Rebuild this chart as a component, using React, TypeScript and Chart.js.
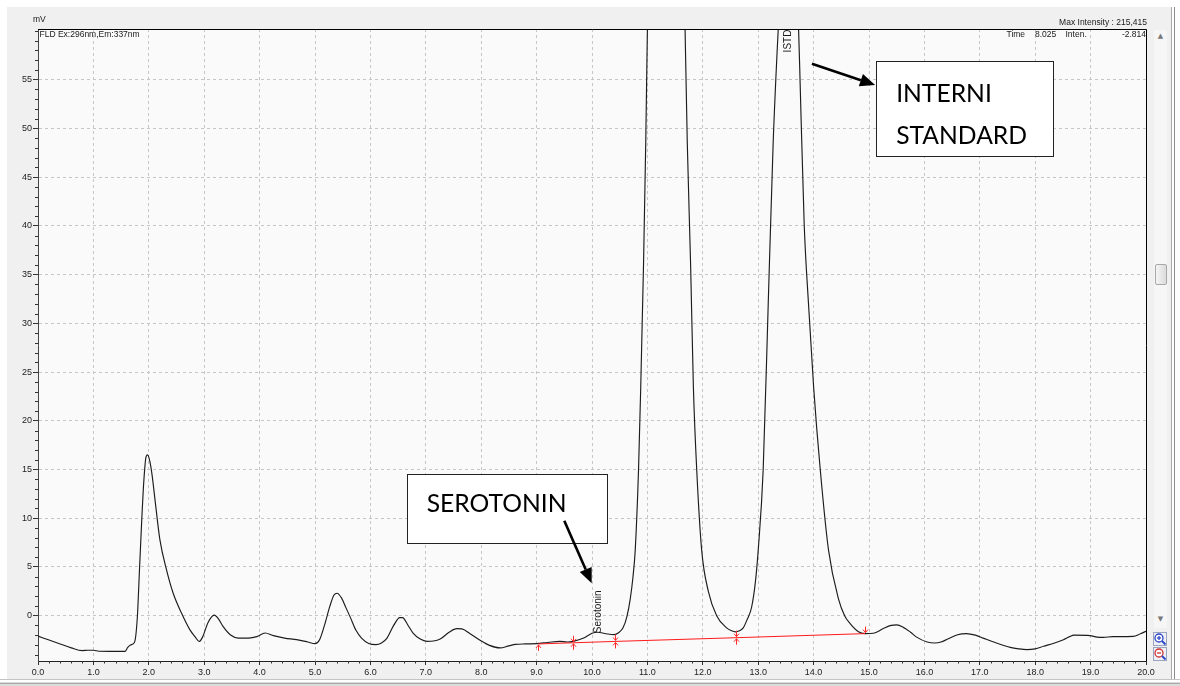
import React, { useEffect, useRef } from 'react';
import { Chart, registerables } from 'chart.js';

Chart.register(...registerables);

// ---- data ----
const retentionTimes = [
  0.0, 0.2, 0.4, 0.6, 0.8, 0.9, 1.0, 1.1, 1.3, 1.57, 1.62, 1.67, 1.74, 1.77, 1.8, 1.83, 1.87, 1.91, 1.95, 1.98,
  2.02, 2.06, 2.12, 2.2, 2.32, 2.44, 2.59, 2.74, 2.84, 2.91, 2.97, 3.07, 3.18, 3.26, 3.34, 3.47, 3.62, 3.8, 3.95,
  4.1, 4.25, 4.45, 4.67, 4.87, 5.0, 5.08, 5.17, 5.27, 5.34, 5.4, 5.48, 5.56, 5.64, 5.74, 5.84, 5.97, 6.1, 6.2,
  6.3, 6.42, 6.53, 6.58, 6.67, 6.77, 6.9, 7.02, 7.14, 7.26, 7.42, 7.56, 7.65, 7.8, 7.98, 8.15, 8.34, 8.5, 8.62,
  8.8, 9.0, 9.2, 9.42, 9.55, 9.66, 9.85, 10.0, 10.1, 10.25, 10.4, 10.48, 10.56, 10.63, 10.69, 10.74, 10.78,
  10.84, 10.88, 10.93, 10.97, 11.0, 11.09, 11.22, 11.34, 11.46, 11.59, 11.68, 11.72, 11.78, 11.83, 11.89,
  11.98, 12.1, 12.25, 12.43, 12.52, 12.59, 12.66, 12.73, 12.8, 12.88, 12.95, 13.0, 13.09, 13.18, 13.27,
  13.36, 13.45, 13.545, 13.64, 13.73, 13.76, 13.83, 13.91, 14.0, 14.12, 14.27, 14.45, 14.56, 14.66, 14.81,
  14.93, 15.08, 15.25, 15.4, 15.5, 15.62, 15.75, 15.86, 16.05, 16.19, 16.3, 16.42, 16.6, 16.76, 16.92, 17.06,
  17.3, 17.55, 17.7, 17.85, 18.0, 18.15, 18.35, 18.51, 18.62, 18.7, 18.99, 19.12, 19.23, 19.4, 19.77, 19.9, 20.0,
];
const signalMv = [
  -2.1, -2.5, -2.9, -3.3, -3.58, -3.55, -3.55, -3.65, -3.66, -3.66, -3.25, -3.0, -2.75, -1.8, 0.5, 4.5, 9.5, 13.8, 16.3, 16.5,
  15.8, 14.4, 11.5, 7.8, 4.7, 2.3, 0.27, -1.43, -2.2, -2.65, -2.2, -0.7, 0.05, -0.35, -1.1, -1.95, -2.3, -2.3, -2.15,
  -1.78, -2.05, -2.3, -2.46, -2.7, -2.87, -2.5, -1.0, 1.0, 2.1, 2.3, 1.8, 0.8, -0.2, -1.5, -2.3, -2.85, -2.97, -2.8,
  -2.3, -1.0, -0.2, -0.2, -0.9, -1.78, -2.4, -2.63, -2.6, -2.4, -1.7, -1.33, -1.35, -1.85, -2.53, -3.05, -3.31, -3.1, -2.95,
  -2.9, -2.87, -2.75, -2.63, -2.7, -2.63, -2.3, -1.8, -1.7, -1.85, -1.95, -1.75, -1.25, -0.1, 1.7, 4.0, 6.7,
  15.0, 23.5, 36.0, 48.5, 60.2, 89.6, 132.8, 149.0, 132.8, 89.6, 60.2, 48.5, 36.0, 23.5, 15.0,
  6.7, 2.5, 0.0, -1.25, -1.55, -1.66, -1.55, -1.25, -0.4, 0.84, 3.5, 6.7, 15.0, 31.8, 48.5,
  60.0, 69.0, 73.0, 69.0, 60.0, 54.0, 40.2, 31.8, 23.5, 15.0, 6.7, 1.7, 0.0, -0.82, -1.66,
  -1.84, -1.8, -1.35, -1.0, -0.95, -1.2, -1.7, -2.2, -2.7, -2.8, -2.7, -2.4, -1.95, -1.84, -2.0, -2.3,
  -2.8, -3.25, -3.4, -3.48, -3.4, -3.14, -2.8, -2.46, -2.15, -2.0, -2.05, -2.2, -2.22, -2.15, -2.12, -1.85, -1.6,
];

// integration baseline (red) and its peak start / end markers
const baselineTimes = [9.03, 9.66, 10.42, 12.6, 14.93];
const baselineValues = [-2.9, -2.78, -2.64, -2.26, -1.84];
const baselineMarkerKinds = ['up', 'both', 'both', 'both', 'down'];

// peak labels
const peakNames = ['Serotonin', 'ISTD'];
const peakLabelTimes = [10.11, 13.545];
const peakLabelValues = [-1.8, 57.8];

// axis
const xMin = 0;
const xMax = 20;
const yMin = -4.65;
const yMax = 60.2;
const yMaxLabel = 55;

// header texts
const detectorText = 'FLD Ex:296nm,Em:337nm';
const maxIntensityText = 'Max Intensity : 215,415';
const cursorTexts = ['Time', '8.025', 'Inten.', '-2.814'];
const yUnit = 'mV';

// call-out boxes (in data coordinates)
const callouts = [
  {
    lines: ['SEROTONIN'],
    box: [6.654, 14.55, 10.27, 7.49],
    text: [7.015, 10.65],
    arrow: [9.5, 9.75, 9.995, 3.33],
  },
  {
    lines: ['INTERNI', 'STANDARD'],
    box: [15.125, 56.9, 18.33, 47.13],
    text: [15.49, 52.74],
    arrow: [13.97, 56.63, 15.11, 54.46],
  },
];

const SMALL_FONT = '"Liberation Sans", Arial, sans-serif';

function drawArrow(ctx: CanvasRenderingContext2D, x1: number, y1: number, x2: number, y2: number) {
  const ang = Math.atan2(y2 - y1, x2 - x1);
  const headLen = 15;
  const headHalf = 6.5;
  const bx = x2 - Math.cos(ang) * headLen;
  const by = y2 - Math.sin(ang) * headLen;
  ctx.save();
  ctx.strokeStyle = '#000';
  ctx.fillStyle = '#000';
  ctx.lineWidth = 2.6;
  ctx.beginPath();
  ctx.moveTo(x1, y1);
  ctx.lineTo(bx, by);
  ctx.stroke();
  ctx.beginPath();
  ctx.moveTo(x2, y2);
  ctx.lineTo(bx - Math.sin(ang) * headHalf, by + Math.cos(ang) * headHalf);
  ctx.lineTo(bx + Math.sin(ang) * headHalf, by - Math.cos(ang) * headHalf);
  ctx.closePath();
  ctx.fill();
  ctx.restore();
}

const chromPlugin = {
  id: 'chromDecor',
  beforeDraw(chart: any) {
    const { ctx, chartArea: a } = chart;
    ctx.save();
    ctx.fillStyle = '#fafafa';
    ctx.fillRect(a.left, a.top, a.right - a.left, a.bottom - a.top);
    ctx.restore();
  },
  afterDatasetsDraw(chart: any) {
    const { ctx } = chart;
    const xs = chart.scales.x;
    const ys = chart.scales.y;
    // baseline markers
    ctx.save();
    ctx.strokeStyle = '#ff2a2a';
    ctx.lineWidth = 1;
    baselineTimes.forEach((t, i) => {
      const x = Math.round(xs.getPixelForValue(t)) + 0.5;
      const y = ys.getPixelForValue(baselineValues[i]);
      const kind = baselineMarkerKinds[i];
      ctx.beginPath();
      if (kind === 'up' || kind === 'both') {
        ctx.moveTo(x, y + 1);
        ctx.lineTo(x, y + 7);
        ctx.moveTo(x - 2.5, y + 4);
        ctx.lineTo(x, y + 1);
        ctx.lineTo(x + 2.5, y + 4);
      }
      if (kind === 'down' || kind === 'both') {
        ctx.moveTo(x, y - 1);
        ctx.lineTo(x, y - 7);
        ctx.moveTo(x - 2.5, y - 4);
        ctx.lineTo(x, y - 1);
        ctx.lineTo(x + 2.5, y - 4);
      }
      ctx.stroke();
    });
    ctx.restore();
    // peak names
    ctx.save();
    ctx.fillStyle = '#1a1a1a';
    ctx.font = '10px ' + SMALL_FONT;
    ctx.textAlign = 'left';
    ctx.textBaseline = 'middle';
    peakNames.forEach((name, i) => {
      const x = xs.getPixelForValue(peakLabelTimes[i]);
      const y = ys.getPixelForValue(peakLabelValues[i]);
      ctx.save();
      ctx.translate(x, y);
      ctx.rotate(-Math.PI / 2);
      ctx.fillText(name, 0, 0);
      ctx.restore();
    });
    ctx.restore();
  },
  afterDraw(chart: any) {
    const { ctx, chartArea: a } = chart;
    const xs = chart.scales.x;
    const ys = chart.scales.y;
    ctx.save();
    // top & right frame of the plot
    ctx.strokeStyle = '#000';
    ctx.lineWidth = 1;
    ctx.beginPath();
    ctx.moveTo(a.left, a.top + 0.5);
    ctx.lineTo(a.right + 0.5, a.top + 0.5);
    ctx.lineTo(a.right + 0.5, a.bottom);
    ctx.stroke();
    // minor ticks
    ctx.strokeStyle = '#333';
    ctx.beginPath();
    for (let v = Math.ceil(yMin); v <= Math.floor(yMax); v++) {
      if (v % 5 === 0 && v <= yMaxLabel && v >= 0) continue;
      const y = Math.round(ys.getPixelForValue(v)) + 0.5;
      ctx.moveTo(a.left - 3, y);
      ctx.lineTo(a.left, y);
    }
    for (let k = 0; k <= (xMax - xMin) * 5; k++) {
      if (k % 5 === 0) continue;
      const x = Math.round(xs.getPixelForValue(xMin + k * 0.2)) + 0.5;
      ctx.moveTo(x, a.bottom);
      ctx.lineTo(x, a.bottom + 2.5);
    }
    ctx.stroke();

    // header texts
    ctx.fillStyle = '#1a1a1a';
    ctx.font = '8.5px ' + SMALL_FONT;
    ctx.textBaseline = 'middle';
    ctx.textAlign = 'left';
    ctx.fillText(yUnit, a.left - 5, a.top - 9);
    ctx.fillText(detectorText, a.left + 1.5, a.top + 6);
    ctx.textAlign = 'right';
    ctx.fillText(maxIntensityText, a.right + 1, a.top - 6.5);
    ctx.textAlign = 'left';
    ctx.fillText(cursorTexts[0], a.right - 139.5, a.top + 5.5);
    ctx.fillText(cursorTexts[1], a.right - 111, a.top + 5.5);
    ctx.fillText(cursorTexts[2], a.right - 80.5, a.top + 5.5);
    ctx.textAlign = 'right';
    ctx.fillText(cursorTexts[3], a.right, a.top + 5.5);

    // call-outs
    const fam = 'Lato, "Open Sans", sans-serif';
    ctx.font = '27px ' + fam;
    const w0 = ctx.measureText('SEROTONIN').width;
    const size = (27 * 140) / w0;
    callouts.forEach((c) => {
      const x1 = Math.round(xs.getPixelForValue(c.box[0])) + 0.5;
      const y1 = Math.round(ys.getPixelForValue(c.box[1])) + 0.5;
      const x2 = Math.round(xs.getPixelForValue(c.box[2])) + 0.5;
      const y2 = Math.round(ys.getPixelForValue(c.box[3])) + 0.5;
      ctx.fillStyle = '#fff';
      ctx.fillRect(x1, y1, x2 - x1, y2 - y1);
      ctx.strokeStyle = '#222';
      ctx.lineWidth = 1;
      ctx.strokeRect(x1, y1, x2 - x1, y2 - y1);
      ctx.fillStyle = '#000';
      ctx.font = size.toFixed(2) + 'px ' + fam;
      ctx.textAlign = 'left';
      ctx.textBaseline = 'alphabetic';
      const tx = xs.getPixelForValue(c.text[0]);
      const ty = ys.getPixelForValue(c.text[1]);
      c.lines.forEach((ln, i) => ctx.fillText(ln, tx, ty + i * 42));
      drawArrow(
        ctx,
        xs.getPixelForValue(c.arrow[0]),
        ys.getPixelForValue(c.arrow[1]),
        xs.getPixelForValue(c.arrow[2]),
        ys.getPixelForValue(c.arrow[3])
      );
    });
    ctx.restore();
  },
};

function MagIcon({ top, minus }: { top: number; minus?: boolean }) {
  const col = minus ? '#d03030' : '#2a46c8';
  return (
    <svg
      width={14}
      height={14}
      style={{ position: 'absolute', left: 1153, top }}
      viewBox="0 0 14 14"
    >
      <rect x={0.5} y={0.5} width={13} height={13} fill="#eef0f6" stroke="#9aa4c0" strokeWidth={1} />
      <circle cx={6} cy={6} r={4} fill="#fff" stroke={col} strokeWidth={1.3} />
      <line x1={4} y1={6} x2={8} y2={6} stroke={col} strokeWidth={1.3} />
      {!minus && <line x1={6} y1={4} x2={6} y2={8} stroke={col} strokeWidth={1.3} />}
      <line x1={9} y1={9} x2={12.5} y2={12.5} stroke="#2a46c8" strokeWidth={1.8} />
    </svg>
  );
}

export default function App() {
  const ref = useRef<HTMLCanvasElement>(null);

  useEffect(() => {
    const canvas = ref.current;
    if (!canvas) return;
    const chart = new Chart(canvas, {
      type: 'line',
      data: {
        datasets: [
          {
            label: 'Baseline',
            data: baselineTimes.map((t, i) => ({ x: t, y: baselineValues[i] })),
            borderColor: '#ff1a1a',
            borderWidth: 1,
            pointRadius: 0,
            tension: 0,
            order: 0,
          },
          {
            label: 'FLD',
            data: retentionTimes.map((t, i) => ({ x: t, y: signalMv[i] })),
            borderColor: '#1c1c1c',
            borderWidth: 1.15,
            pointRadius: 0,
            cubicInterpolationMode: 'monotone',
            order: 1,
          },
        ],
      },
      options: {
        responsive: false,
        animation: false,
        devicePixelRatio: 1,
        events: [],
        layout: { padding: { top: 29, right: 34, left: 0, bottom: 0 } },
        plugins: { legend: { display: false }, tooltip: { enabled: false } },
        scales: {
          x: {
            type: 'linear',
            min: xMin,
            max: xMax,
            afterFit: (s: any) => {
              s.height = 25;
            },
            ticks: {
              stepSize: 1,
              autoSkip: false,
              maxRotation: 0,
              padding: 2,
              color: '#222',
              font: { family: SMALL_FONT, size: 9 },
              callback: (v: any) => Number(v).toFixed(1),
            },
            grid: { color: '#c6c6c6', tickColor: '#333', tickLength: 4, lineWidth: 1 },
            border: { color: '#222', width: 1, dash: [3, 3] },
          },
          y: {
            type: 'linear',
            min: yMin,
            max: yMax,
            afterFit: (s: any) => {
              s.width = 38;
            },
            afterBuildTicks: (s: any) => {
              s.ticks = s.ticks.filter((t: any) => t.value >= 0 && t.value <= yMaxLabel);
            },
            ticks: {
              stepSize: 5,
              includeBounds: false,
              padding: 1,
              color: '#222',
              font: { family: SMALL_FONT, size: 9 },
              callback: (v: any) => String(Math.round(Number(v))),
            },
            grid: { color: '#c6c6c6', tickColor: '#333', tickLength: 5, lineWidth: 1 },
            border: { color: '#444', width: 1, dash: [3, 3] },
          },
        },
      },
      plugins: [chromPlugin],
    } as any);
    return () => chart.destroy();
  }, []);

  return (
    <div
      style={{
        position: 'fixed',
        left: 0,
        top: 0,
        width: 1180,
        height: 686,
        background: '#ffffff',
        overflow: 'hidden',
      }}
    >
      <div style={{ position: 'absolute', left: 7, top: 7, width: 1164, height: 672, background: '#f0f0f0' }} />
      {/* right window edge */}
      <div style={{ position: 'absolute', left: 1171, top: 7, width: 1, height: 672, background: '#a9a9a9' }} />
      <div style={{ position: 'absolute', left: 1174, top: 7, width: 1, height: 672, background: '#8c8c8c' }} />
      {/* bottom window edge */}
      <div style={{ position: 'absolute', left: 0, top: 679, width: 1180, height: 1, background: '#c4c4c4' }} />
      <div style={{ position: 'absolute', left: 0, top: 682, width: 1180, height: 4, background: '#dcdcdc' }} />
      <div style={{ position: 'absolute', left: 0, top: 683, width: 1180, height: 1, background: '#a8a8a8' }} />
      {/* scrollbar */}
      <div style={{ position: 'absolute', left: 1154, top: 30, width: 13, height: 598, background: '#f6f6f6' }} />
      <div
        style={{
          position: 'absolute',
          left: 1156,
          top: 32,
          width: 9,
          fontSize: 7,
          lineHeight: '9px',
          color: '#777',
          textAlign: 'center',
          fontFamily: 'DejaVu Sans, sans-serif',
        }}
      >
        ▲
      </div>
      <div
        style={{
          position: 'absolute',
          left: 1156,
          top: 615,
          width: 9,
          fontSize: 7,
          lineHeight: '9px',
          color: '#777',
          textAlign: 'center',
          fontFamily: 'DejaVu Sans, sans-serif',
        }}
      >
        ▼
      </div>
      <div
        style={{
          position: 'absolute',
          left: 1155,
          top: 264,
          width: 10,
          height: 19,
          background: 'linear-gradient(90deg, #f4f4f4, #dcdcdc)',
          border: '1px solid #a8a8a8',
          borderRadius: 2,
        }}
      />
      <MagIcon top={632} />
      <MagIcon top={647} minus />
      <canvas
        ref={ref}
        width={1180}
        height={686}
        style={{ position: 'absolute', left: 0, top: 0, width: 1180, height: 686 }}
      />
    </div>
  );
}
